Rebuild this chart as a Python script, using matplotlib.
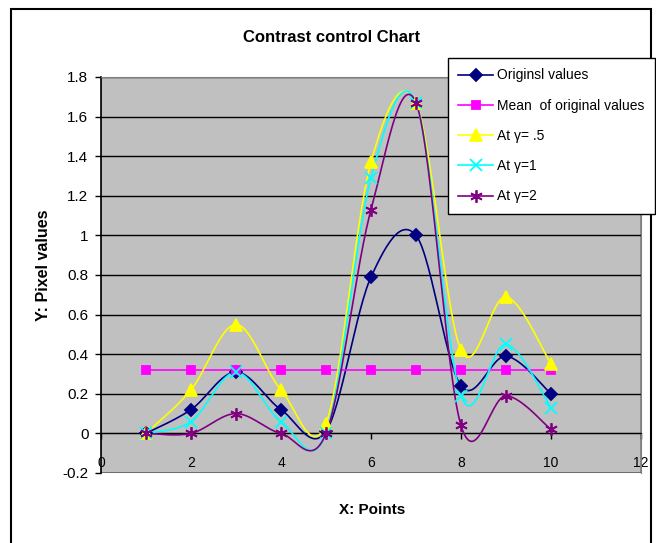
import numpy as np
import matplotlib
matplotlib.use("Agg")
import matplotlib.pyplot as plt
from matplotlib.patches import Rectangle

plt.rcParams["font.family"] = ["Liberation Sans", "DejaVu Sans"]

# data
x_points = [1, 2, 3, 4, 5, 6, 7, 8, 9, 10]
original = [0.0, 0.12, 0.31, 0.12, 0.01, 0.79, 1.0, 0.24, 0.39, 0.20]
mean_orig = [0.32] * 10
gamma_05 = [0.0, 0.22, 0.55, 0.22, 0.05, 1.37, 1.67, 0.42, 0.69, 0.35]
gamma_1 = [0.0, 0.06, 0.31, 0.06, 0.0, 1.29, 1.67, 0.19, 0.45, 0.13]
gamma_2 = [0.0, 0.0, 0.10, 0.0, 0.0, 1.13, 1.67, 0.04, 0.19, 0.02]

x_ticks = [0, 2, 4, 6, 8, 10, 12]
y_ticks = [-0.2, 0, 0.2, 0.4, 0.6, 0.8, 1, 1.2, 1.4, 1.6, 1.8]
y_tick_labels = ["-0.2", "0", "0.2", "0.4", "0.6", "0.8", "1", "1.2", "1.4", "1.6", "1.8"]

series = [
  ("Originsl values", original, "#000080", "D", 6),
  ("Mean  of original values", mean_orig, "#FF00FF", "s", 6),
  ("At \u03b3= .5", gamma_05, "#FFFF00", "^", 8),
  ("At \u03b3=1", gamma_1, "#00FFFF", "x", 8),
  ("At \u03b3=2", gamma_2, "#800080", (6, 2, 0), 9),
]


def _smooth(xs, ys, n=30):
  # excel-style smoothed line: cubic bezier, control points from neighbours / 6
  p = np.column_stack([xs, ys]).astype(float)
  p_ext = np.vstack([p[0], p, p[-1]])
  t = np.linspace(0, 1, n)[:, None]
  out = []
  for i in range(len(p) - 1):
    p0, p1, p2, p3 = p_ext[i], p_ext[i + 1], p_ext[i + 2], p_ext[i + 3]
    c1 = p1 + (p2 - p0) / 6.0
    c2 = p2 - (p3 - p1) / 6.0
    seg = ((1 - t) ** 3) * p1 + 3 * ((1 - t) ** 2) * t * c1 + 3 * (1 - t) * t ** 2 * c2 + t ** 3 * p2
    out.append(seg if i == 0 else seg[1:])
  seg = np.vstack(out)
  return seg[:, 0], seg[:, 1]


fig = plt.figure(figsize=(6.56, 5.43), dpi=100)
ax = fig.add_axes([101 / 656, 1 - 473 / 543, 540 / 656, 396 / 543])
ax.set_facecolor("#C0C0C0")

for label, ys, color, marker, ms in series:
  sx, sy = _smooth(x_points, ys)
  ax.plot(sx, sy, color=color, lw=1.2, zorder=3)
  ax.plot(x_points, ys, ls="none", marker=marker, ms=ms, color=color,
          mec=color, mew=1.3, zorder=4)
  ax.plot([], [], color=color, lw=1.2, marker=marker, ms=ms, mec=color, mew=1.3, label=label)

ax.set_xlim(0, 12)
ax.set_ylim(-0.2, 1.8)
ax.set_xticks(x_ticks)
ax.set_xticklabels([str(v) for v in x_ticks], fontsize=11)
ax.set_yticks(y_ticks)
ax.set_yticklabels(y_tick_labels, fontsize=11)
ax.yaxis.grid(True, color="black", lw=1)
ax.set_axisbelow(True)

ax.spines["bottom"].set_position(("data", 0))
ax.spines["bottom"].set_color("black")
ax.spines["left"].set_color("black")
ax.spines["left"].set_linewidth(1.2)
ax.spines["top"].set_color("#808080")
ax.spines["right"].set_color("#808080")
ax.add_patch(Rectangle((0, 0), 1, 1, transform=ax.transAxes, fill=False,
                       edgecolor="#808080", lw=1.2, zorder=0.5))
ax.tick_params(axis="x", direction="out", length=4, width=1, pad=12, colors="black")
ax.tick_params(axis="y", direction="out", length=4, width=1, pad=5)

fig.text(332 / 656, 1 - 37 / 543, "Contrast control Chart", ha="center", va="center",
         fontsize=12, fontweight="bold")
fig.text(372 / 656, 1 - 510 / 543, "X: Points", ha="center", va="center",
         fontsize=11, fontweight="bold")
fig.text(43 / 656, 1 - 265 / 543, "Y: Pixel values", ha="center", va="center",
         fontsize=11.5, fontweight="bold", rotation=90)

# outer chart border
fig.add_artist(Rectangle((11 / 656, -0.01), 640 / 656, 1 - 9 / 543 + 0.01,
                         transform=fig.transFigure, fill=False, edgecolor="black", lw=1.5))

leg = fig.legend(loc="upper left", bbox_to_anchor=(448 / 656, 1 - 58 / 543),
                 borderaxespad=0, frameon=True, fancybox=False, fontsize=10,
                 handlelength=2.5, handletextpad=0.3, labelspacing=1.17,
                 borderpad=0.75)
leg.get_frame().set_edgecolor("black")
leg.get_frame().set_linewidth(1)
leg.get_frame().set_alpha(1)

fig.savefig("out.png", dpi=100, facecolor="white")
